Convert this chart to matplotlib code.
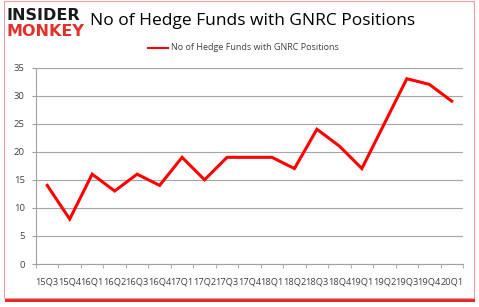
import matplotlib
matplotlib.use("Agg")
import matplotlib.pyplot as plt
from matplotlib.patches import Rectangle

quarters = ["15Q3", "15Q4", "16Q1", "16Q2", "16Q3", "16Q4", "17Q1", "17Q2", "17Q3", "17Q4",
            "18Q1", "18Q2", "18Q3", "18Q4", "19Q1", "19Q2", "19Q3", "19Q4", "20Q1"]
funds = [14, 8, 16, 13, 16, 14, 19, 15, 19, 19, 19, 17, 24, 21, 17, 25, 33, 32, 29]
yticks = [0, 5, 10, 15, 20, 25, 30, 35]
series_name = "No of Hedge Funds with GNRC Positions"

W, H = 479, 307
fig = plt.figure(figsize=(W / 100, H / 100), dpi=100)
fig.patch.set_facecolor("white")

# frame with red shadow
fig.add_artist(Rectangle((5 / W, 1 - 302 / H), 470 / W, 5 / H, transform=fig.transFigure,
                         facecolor="#e8292b", edgecolor="none", zorder=0))
fig.add_artist(Rectangle((4 / W, 1 - 298 / H), 470 / W, 297 / H, transform=fig.transFigure,
                         facecolor="white", edgecolor="#e8a0a0", linewidth=0.8, zorder=1))

ax = fig.add_axes([36 / W, 1 - 264 / H, 427 / W, (264 - 67.5) / H])
ax.set_zorder(2)
x = list(range(len(quarters)))
ax.plot(x, funds, color="#ff0000", linewidth=2.2, solid_joinstyle="miter", zorder=3)

ax.set_xlim(-0.5, len(quarters) - 0.5)
ax.set_ylim(0, 35)
ax.set_yticks(yticks)
ax.set_yticklabels([str(v) for v in yticks], fontsize=6.8, color="#404040", family="Open Sans")
ax.set_xticks(x)
ax.set_xticklabels(quarters, fontsize=6.7, color="#404040", family="Open Sans")
ax.set_xticks([i - 0.5 for i in range(len(quarters) + 1)], minor=True)
ax.tick_params(axis="x", which="major", length=0, pad=10)
ax.tick_params(axis="x", which="minor", length=3, color="#a0a0a0", direction="out")
ax.tick_params(axis="y", length=3, color="#a0a0a0", direction="out", pad=5)
ax.grid(axis="y", color="#a6a6a6", linewidth=0.8)
ax.set_axisbelow(True)
for s in ["top", "right"]:
    ax.spines[s].set_visible(False)
for s in ["left", "bottom"]:
    ax.spines[s].set_color("#a0a0a0")
    ax.spines[s].set_linewidth(0.8)

# logo
fig.text(7 / W, 1 - 16 / H, "INSIDER", fontsize=11.5, fontweight="bold", color="#1a1a1a",
         family="DejaVu Sans", va="center", ha="left", zorder=5)
fig.text(7 / W, 1 - 31 / H, "MONKEY", fontsize=11.5, fontweight="bold", color="#e0312b",
         family="DejaVu Sans", va="center", ha="left", zorder=5)

# title
fig.text(90 / W, 1 - 21 / H, series_name, fontsize=12.5, color="black",
         family="Open Sans", va="center", ha="left", zorder=5)

# legend
fig.add_artist(plt.Line2D([148 / W, 168 / W], [1 - 48 / H, 1 - 48 / H], color="#ff0000",
                          linewidth=1.5, transform=fig.transFigure, zorder=5))
fig.text(171 / W, 1 - 48 / H, series_name, fontsize=6.5, color="#404040",
         family="Open Sans", va="center", ha="left", zorder=5)

fig.savefig("out.png", dpi=100)
